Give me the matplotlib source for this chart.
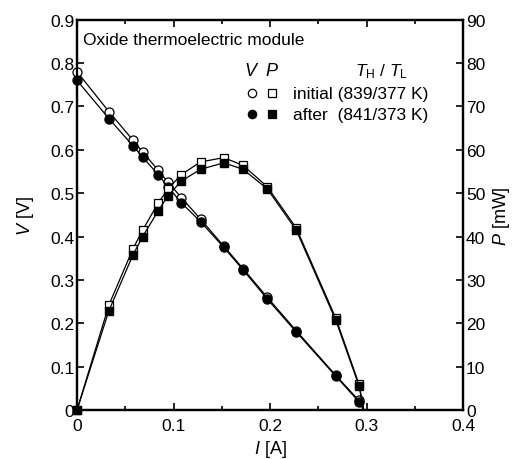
import numpy as np
import matplotlib
matplotlib.use('Agg')
import matplotlib.pyplot as plt
from matplotlib.ticker import MultipleLocator

plt.rcParams['font.family'] = ['Liberation Sans', 'DejaVu Sans']
plt.rcParams['mathtext.fontset'] = 'custom'
plt.rcParams['mathtext.it'] = 'Liberation Sans:italic'
plt.rcParams['mathtext.rm'] = 'Liberation Sans'

# current [A]
current = [0, 0.033, 0.058, 0.068, 0.084, 0.094, 0.108, 0.128, 0.152, 0.172, 0.197, 0.227, 0.268, 0.292, 0.297]

# voltage [V]
v_initial = [0.78, 0.688, 0.622, 0.595, 0.553, 0.526, 0.49, 0.44, 0.378, 0.326, 0.26, 0.183, 0.08, 0.022, 0]
v_after = [0.76, 0.672, 0.609, 0.583, 0.543, 0.515, 0.478, 0.434, 0.375, 0.323, 0.256, 0.180, 0.078, 0.019, 0]

# power [mW]
p_initial = [0, 24.2, 37.2, 41.5, 47.7, 50.9, 54.3, 57.2, 58.2, 56.4, 51.5, 42.0, 21.2, 6.0, 0]
p_after = [0, 22.9, 35.8, 40.0, 45.9, 49.3, 52.8, 55.5, 57.0, 55.5, 51.0, 41.5, 20.7, 5.6, 0]

n_mark = len(current) - 1

fig = plt.figure(figsize=(5.24, 4.6), dpi=100)
ax = fig.add_axes([0.147, 0.1065, 0.737, 0.8485])
ax2 = ax.twinx()

#V curves
ax.plot(current, v_initial, color='black', lw=0.9, marker='o', ms=6.5,
        mfc='white', mec='black', mew=0.9, markevery=range(n_mark), clip_on=False, zorder=3)
ax.plot(current, v_after, color='black', lw=0.9, marker='o', ms=6.5,
        mfc='black', mec='black', markevery=range(n_mark), clip_on=False, zorder=3)

#P curves
ax2.plot(current, p_initial, color='black', lw=0.9, marker='s', ms=6,
         mfc='white', mec='black', mew=0.9, markevery=range(n_mark), clip_on=False, zorder=3)
ax2.plot(current, p_after, color='black', lw=0.9, marker='s', ms=6,
         mfc='black', mec='black', markevery=range(n_mark), clip_on=False, zorder=3)

ax.set_xlim(0, 0.4)
ax.set_ylim(0, 0.9)
ax2.set_ylim(0, 90)

ax.xaxis.set_major_locator(MultipleLocator(0.1))
ax.xaxis.set_minor_locator(MultipleLocator(0.05))
ax.yaxis.set_major_locator(MultipleLocator(0.1))
ax2.yaxis.set_major_locator(MultipleLocator(10))

ax.set_xticks([0, 0.1, 0.2, 0.3, 0.4], ['0', '0.1', '0.2', '0.3', '0.4'])
ax.set_yticks(np.arange(0, 10) / 10, ['0', '0.1', '0.2', '0.3', '0.4', '0.5', '0.6', '0.7', '0.8', '0.9'])

for a in (ax, ax2):
    for s in a.spines.values():
        s.set_linewidth(1.6)
ax.tick_params(which='both', direction='in', top=True, labelsize=12.5, width=1.2)
ax.tick_params(axis='y', pad=2)
ax.tick_params(axis='x', pad=6)
ax.tick_params(which='major', length=5)
ax.tick_params(which='minor', length=3)
ax2.tick_params(direction='in', labelsize=12.5, length=5, width=1.2, pad=2)

ax.set_xlabel('$I$ [A]', fontsize=13, labelpad=3)
ax.set_ylabel('$V$ [V]', fontsize=13, labelpad=10)
ax2.set_ylabel('$P$ [mW]', fontsize=13, labelpad=4)

#legend block
ax.text(0.016, 0.95, 'Oxide thermoelectric module', transform=ax.transAxes,
        fontsize=12.5, va='center', ha='left')
ax.text(0.453, 0.869, '$V$', transform=ax.transAxes, fontsize=13, va='center', ha='center')
ax.text(0.505, 0.869, '$P$', transform=ax.transAxes, fontsize=13, va='center', ha='center')
ax.text(0.79, 0.869, '$T_\\mathrm{H}$ / $T_\\mathrm{L}$', transform=ax.transAxes,
        fontsize=12.5, va='center', ha='center')

rows = [('initial (839/377 K)', 'white', 0.812), ('after  (841/373 K)', 'black', 0.758)]
for label, fc, yy in rows:
    ax.plot([0.453], [yy], marker='o', ms=6, mfc=fc, mec='black', mew=0.9,
            transform=ax.transAxes, clip_on=False)
    ax.plot([0.505], [yy], marker='s', ms=5.5, mfc=fc, mec='black', mew=0.9,
            transform=ax.transAxes, clip_on=False)
    ax.text(0.56, yy, label, transform=ax.transAxes, fontsize=12.5, va='center', ha='left')

fig.savefig('out.png', dpi=100)
